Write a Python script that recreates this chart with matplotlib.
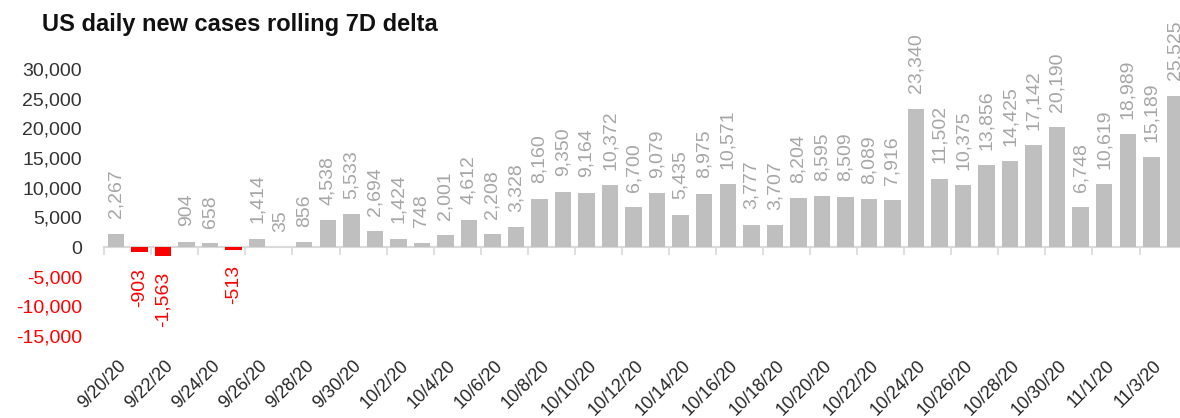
import matplotlib
matplotlib.use("Agg")
import matplotlib.pyplot as plt
import matplotlib.transforms as mtransforms
import numpy as np

plt.rcParams['font.family'] = ['Liberation Sans', 'DejaVu Sans']

# dates 9/20/20 .. 11/4/20
dates = ["9/%d/20" % d for d in range(20, 31)] + \
        ["10/%d/20" % d for d in range(1, 32)] + \
        ["11/%d/20" % d for d in range(1, 5)]

deltas = [2267, -903, -1563, 904, 658, -513, 1414, 35, 856, 4538, 5533,
          2694, 1424, 748, 2001, 4612, 2208, 3328, 8160, 9350, 9164, 10372,
          6700, 9079, 5435, 8975, 10571, 3777, 3707, 8204, 8595, 8509, 8089,
          7916, 23340, 11502, 10375, 13856, 14425, 17142, 20190, 6748, 10619,
          18989, 15189, 25525]

y_ticks = [-15000, -10000, -5000, 0, 5000, 10000, 15000, 20000, 25000, 30000]

POS = '#bfbfbf'
NEG = '#ff0000'
POS_LBL = '#a6a6a6'

n = len(deltas)
x = np.arange(n)
vals = np.array(deltas)
colors = [POS if v >= 0 else NEG for v in vals]

fig = plt.figure(figsize=(11.8, 4.18), dpi=100)
# axes placed in pixel terms of the reference
W, H = 1180, 418
left, right, top, bottom = 104.2, 1186.6, 69, 336
ax = fig.add_axes([left / W, (H - bottom) / H, (right - left) / W, (bottom - top) / H])

ax.bar(x, vals, width=0.7, color=colors, zorder=2)
ax.set_xlim(-0.5, n - 0.5)
ax.set_ylim(-15000, 30000)

# data labels
for xi, v in zip(x, vals):
    if v >= 0:
        ax.annotate(f"{v:,}", (xi, v), xytext=(0, 11), textcoords='offset points',
                    rotation=90, ha='center', va='bottom', fontsize=14,
                    color=POS_LBL, annotation_clip=False)
    else:
        ax.annotate(f"{v:,}", (xi, v), xytext=(0, -11), textcoords='offset points',
                    rotation=90, ha='center', va='top', fontsize=14,
                    color=NEG, annotation_clip=False)

# y axis
ax.set_yticks(y_ticks)
ax.set_yticklabels([f"{t:,}" for t in y_ticks], fontsize=14)
for lbl, t in zip(ax.get_yticklabels(), y_ticks):
    lbl.set_color(NEG if t < 0 else '#333333')
ax.tick_params(axis='y', length=0, pad=16)

# x axis line at zero with tick marks between categories every 2 days
for s in ['top', 'right', 'left']:
    ax.spines[s].set_visible(False)
ax.spines['bottom'].set_position(('data', 0))
ax.spines['bottom'].set_color('#d9d9d9')
ax.spines['bottom'].set_linewidth(1.5)
ax.spines['bottom'].set_zorder(1)
ax.set_xticks(np.arange(-0.5, n, 2))
ax.tick_params(axis='x', direction='out', length=6, width=1.2, color='#d9d9d9',
               labelbottom=False)

# date labels under the plot area
trans = mtransforms.blended_transform_factory(ax.transData, ax.transAxes)
for i in range(0, n, 2):
    ax.annotate(dates[i], (i, 0), xycoords=trans, xytext=(1, -15),
                textcoords='offset points', rotation=45, rotation_mode='anchor',
                ha='right', va='top', fontsize=13, color='#262626',
                annotation_clip=False)

fig.text(42 / W, 1 - 31 / H, "US daily new cases rolling 7D delta",
         fontsize=17, fontweight='bold', color='#111111', ha='left', va='baseline')

fig.savefig("out.png", dpi=100)
